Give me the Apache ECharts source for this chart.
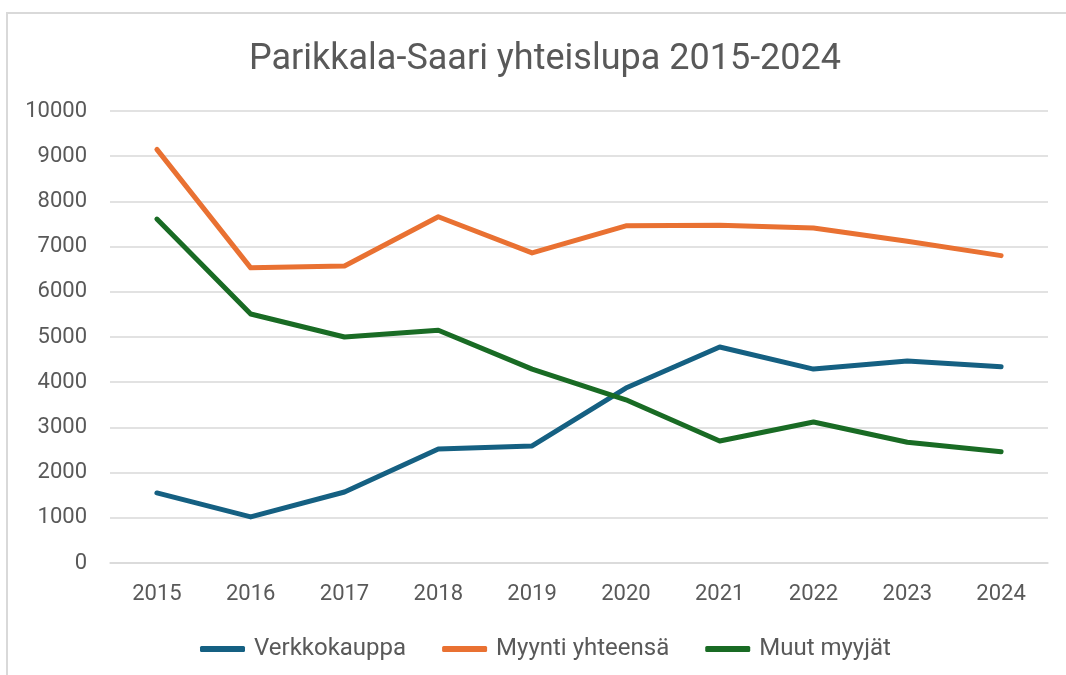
<!DOCTYPE html>
<html>
<head>
<meta charset="utf-8">
<script src="https://cdn.jsdelivr.net/npm/echarts@6/dist/echarts.min.js"></script>
<style>
  html, body { margin: 0; padding: 0; background: #fff; }
  #chart { width: 1066px; height: 675px; }
</style>
</head>
<body>
<div id="chart"></div>
<script>
const years = ["2015", "2016", "2017", "2018", "2019", "2020", "2021", "2022", "2023", "2024"];
const verkkokauppa = [1550, 1020, 1570, 2520, 2590, 3870, 4780, 4290, 4470, 4340];
const myyntiYhteensa = [9150, 6530, 6570, 7660, 6860, 7460, 7470, 7410, 7120, 6800];
const muutMyyjat = [7610, 5510, 5000, 5150, 4290, 3610, 2700, 3120, 2670, 2460];

const textColor = "#595959";
const fontFamily = "Roboto, 'Liberation Sans', sans-serif";

const chart = echarts.init(document.getElementById("chart"));

const lineSeries = (name, data, color) => ({
  name: name,
  type: "line",
  data: data,
  symbol: "none",
  lineStyle: { width: 5, color: color, cap: "round", join: "round" },
  itemStyle: { color: color }
});

chart.setOption({
  animation: false,
  textStyle: { fontFamily: fontFamily },
  graphic: [
    {
      type: "rect",
      shape: { x: 7, y: 13, width: 1200, height: 800 },
      style: { fill: "none", stroke: "#d9d9d9", lineWidth: 2 },
      silent: true
    }
  ],
  title: {
    text: "Parikkala-Saari yhteislupa 2015-2024",
    left: 540,
    textAlign: "center",
    top: 37,
    textStyle: { color: textColor, fontSize: 36, fontWeight: "normal", fontFamily: fontFamily }
  },
  grid: { left: 110, right: 18, top: 111, bottom: 112, containLabel: false },
  legend: {
    bottom: 9,
    left: 195,
    itemWidth: 45,
    itemHeight: 6,
    itemGap: 36,
    icon: "roundRect",
    textStyle: { color: textColor, fontSize: 24, fontFamily: fontFamily, padding: [0, 0, 0, 4] },
    data: ["Verkkokauppa", "Myynti yhteensä", "Muut myyjät"]
  },
  xAxis: {
    type: "category",
    data: years,
    boundaryGap: true,
    axisLine: { show: true, lineStyle: { color: "#d9d9d9", width: 1.5 } },
    axisTick: { show: false },
    axisLabel: { color: textColor, fontSize: 22, margin: 20 }
  },
  yAxis: {
    type: "value",
    min: 0,
    max: 10000,
    interval: 1000,
    axisLine: { show: false },
    axisTick: { show: false },
    axisLabel: { color: textColor, fontSize: 22, margin: 23, formatter: (v) => String(v) },
    splitLine: { lineStyle: { color: "#d9d9d9", width: 1.5 } }
  },
  series: [
    lineSeries("Verkkokauppa", verkkokauppa, "#156082"),
    lineSeries("Myynti yhteensä", myyntiYhteensa, "#E97132"),
    lineSeries("Muut myyjät", muutMyyjat, "#196B24")
  ]
});
</script>
</body>
</html>
